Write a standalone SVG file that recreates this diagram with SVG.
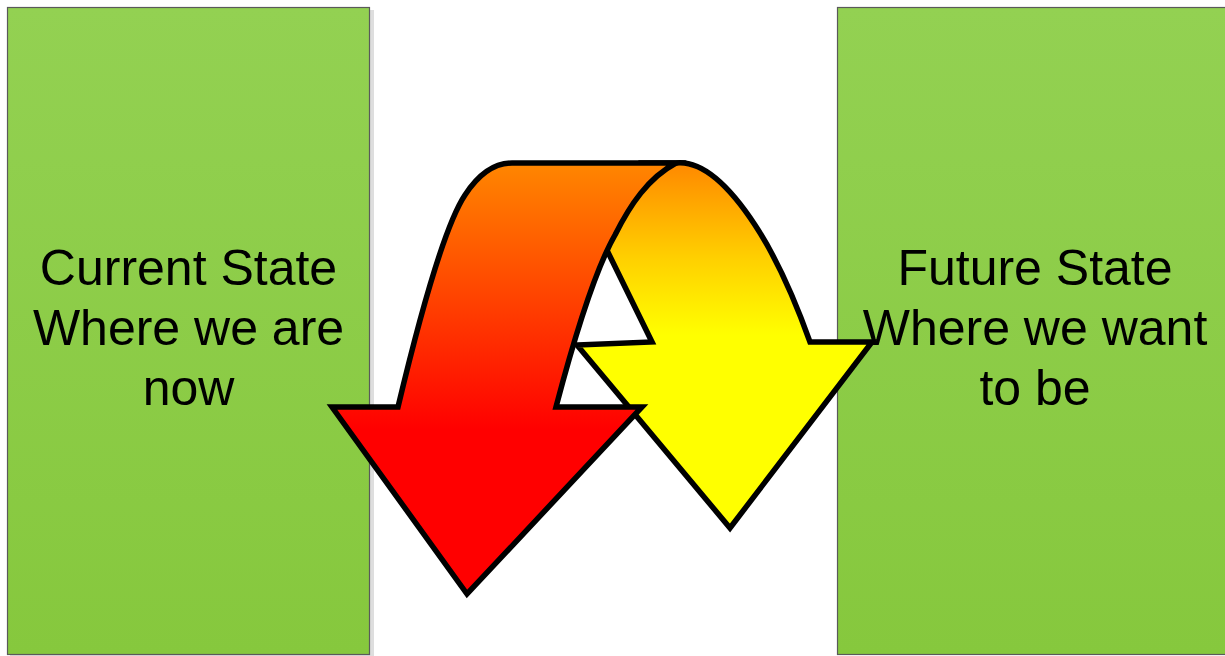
<svg xmlns="http://www.w3.org/2000/svg" width="1225" height="656" viewBox="0 0 1225 656">
  <defs>
    <linearGradient id="gGreen" x1="0" y1="0" x2="0" y2="1">
      <stop offset="0" stop-color="#93D152"/>
      <stop offset="1" stop-color="#86C83D"/>
    </linearGradient>
    <linearGradient id="gRed" gradientUnits="userSpaceOnUse" x1="0" y1="163" x2="0" y2="430">
      <stop offset="0" stop-color="#FF8600"/>
      <stop offset="0.45" stop-color="#FF4A00"/>
      <stop offset="1" stop-color="#FF0000"/>
    </linearGradient>
    <linearGradient id="gYellow" gradientUnits="userSpaceOnUse" x1="0" y1="165" x2="0" y2="335">
      <stop offset="0" stop-color="#FF8A00"/>
      <stop offset="0.55" stop-color="#FFD000"/>
      <stop offset="1" stop-color="#FFFF00"/>
    </linearGradient>
    <style>
      .box { fill: url(#gGreen); stroke: #5a5a5a; stroke-width: 1.2; }
      .shadow { fill: #dedede; }
      .label { font-family: "Liberation Sans", Arial, sans-serif; font-size: 50px; fill: #000; text-anchor: middle; }
      .arrow { stroke: #000; stroke-width: 5.5; stroke-linejoin: miter; stroke-miterlimit: 10; }
    </style>
  </defs>
  <rect width="1225" height="656" fill="#ffffff"/>

  <g id="current-state">
    <rect class="shadow" x="10" y="10" width="364" height="650"/>
    <rect class="box" x="7.5" y="7.5" width="362" height="647"/>
    <text class="label" x="188.5" y="285">Current State</text>
    <text class="label" x="188.5" y="345">Where we are</text>
    <text class="label" x="188.5" y="405">now</text>
  </g>

  <g id="future-state">
    <rect class="box" x="837.5" y="7.5" width="400" height="647"/>
    <text class="label" x="1035" y="285">Future State</text>
    <text class="label" x="1035" y="345">Where we want</text>
    <text class="label" x="1035" y="405">to be</text>
  </g>

  <g id="connectors">
    <path id="yellow-arrow" class="arrow" fill="url(#gYellow)" d="M 640,163 L 676,163 C 704,160 732,190 755,225 C 778,260 795,300 810,342 L 872,342 L 730,528 L 577,345 L 652,342 L 600,236 L 620,190 Z"/>
    <path id="red-arrow" class="arrow" fill="url(#gRed)" d="M 512,163 L 676,163 C 648,178 630,205 615,235 C 595,270 575,335 556,407 L 642,407 L 467,594 L 332,407 L 398,407 C 420,315 445,225 465,195 C 480,172 495,163 512,163 Z"/>
  </g>
</svg>
